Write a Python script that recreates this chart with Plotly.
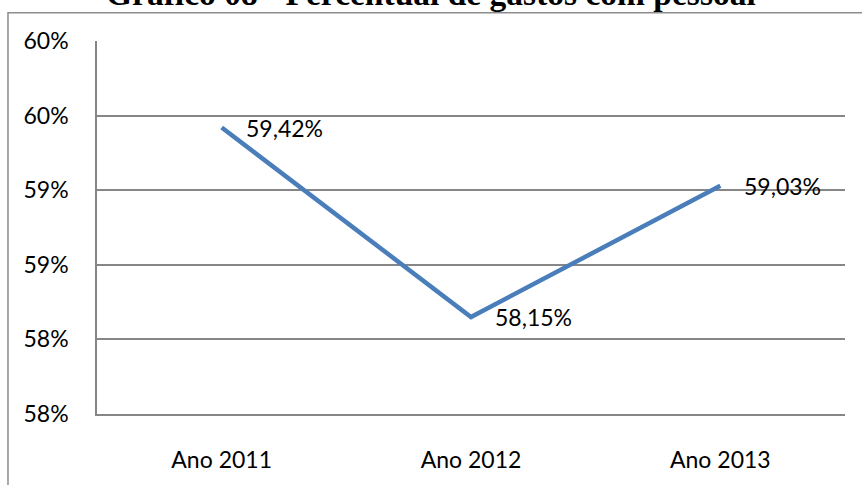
import plotly.graph_objects as go

anos = ["Ano 2011", "Ano 2012", "Ano 2013"]
percentual = [59.42, 58.15, 59.03]
rotulos = ["59,42%", "58,15%", "59,03%"]

y_ticks = [57.5, 58.0, 58.5, 59.0, 59.5, 60.0]
y_tick_text = ["58%", "58%", "59%", "59%", "60%", "60%"]

titulo = "Gráfico 08 - Percentual de gastos com pessoal"

fig = go.Figure()

fig.add_trace(
    go.Scatter(
        x=anos,
        y=percentual,
        mode="lines",
        line=dict(color="#4a7ebb", width=4.5),
        hoverinfo="skip",
        showlegend=False,
    )
)

for ano, valor, rotulo in zip(anos, percentual, rotulos):
    fig.add_annotation(
        x=ano, y=valor, text=rotulo, showarrow=False,
        xanchor="left", yanchor="middle", xshift=22,
        font=dict(family="Lato", size=23, color="#000000"),
    )

# titulo cortado no topo da imagem
fig.add_annotation(
    xref="paper", yref="paper", x=0.446, y=1.127,
    text="<b>" + titulo + "</b>", showarrow=False,
    xanchor="center", yanchor="middle",
    font=dict(family="Liberation Serif", size=33.5, color="#000000"),
)

# moldura do gráfico
fig.add_shape(
    type="rect", xref="paper", yref="paper",
    x0=-0.119, x1=1.3, y0=-0.5, y1=1.0757,
    line=dict(color="#8c8c8c", width=1.5),
)

fig.update_xaxes(
    type="category",
    range=[-0.5, 2.5],
    showgrid=False,
    showline=True, linecolor="#868686", linewidth=1.5,
    ticks="", ticklabelstandoff=25,
    tickfont=dict(family="Lato", size=23, color="#000000"),
)

fig.update_yaxes(
    range=[57.5, 60.0],
    tickvals=y_ticks, ticktext=y_tick_text,
    showgrid=True, gridcolor="#868686", gridwidth=1.5,
    showline=True, linecolor="#868686", linewidth=1.5,
    zeroline=False,
    ticks="", ticklabelstandoff=22,
    tickfont=dict(family="Lato", size=23, color="#000000"),
)

fig.update_layout(
    width=862, height=485,
    margin=dict(l=97, r=17, t=41, b=61),
    paper_bgcolor="#ffffff", plot_bgcolor="#ffffff",
)

# a página tem margem padrão de 8px no body; zera para alinhar ao quadro
fig.write_html(
    "out.html",
    config=dict(displayModeBar=False),
    post_script="document.body.style.margin = '0';",
)
